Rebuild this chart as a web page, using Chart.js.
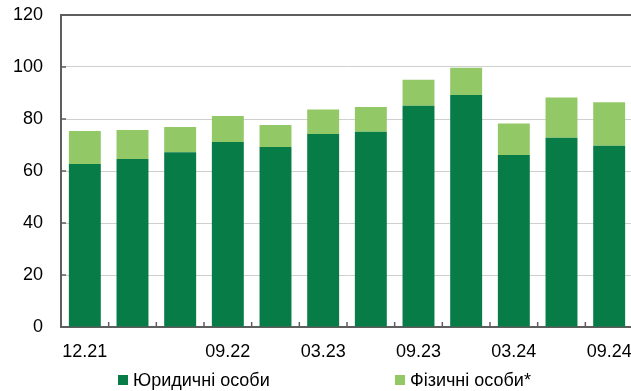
<!DOCTYPE html>
<html>
<head>
<meta charset="utf-8">
<script src="https://cdn.jsdelivr.net/npm/chart.js@4"></script>
<style>
    html, body { margin: 0; padding: 0; overflow: hidden; background: #fff; }
    #wrap { position: relative; width: 640px; height: 391px; }
    .legend-item { position: absolute; top: 370px; font: 18px Arial, "Liberation Sans", sans-serif; line-height: 20px; color: #000; white-space: nowrap; }
    .legend-box { position: absolute; top: 375px; width: 10px; height: 10px; }
</style>
</head>
<body>
<div id="wrap">
    <canvas id="chart" width="640" height="391"></canvas>
    <span class="legend-box" style="left:118px;background:#077c46"></span>
    <span class="legend-item" style="left:133px">Юридичні особи</span>
    <span class="legend-box" style="left:395px;background:#93c866"></span>
    <span class="legend-item" style="left:410px">Фізичні особи*</span>
</div>
<script>
// Quarters on the x axis
var quarters = ['12.21', '03.22', '06.22', '09.22', '12.22', '03.23', '06.23', '09.23', '12.23', '03.24', '06.24', '09.24'];
// Only some quarters get a label under the axis
var tickLabels = ['12.21', '', '', '09.22', '', '03.23', '', '09.23', '', '03.24', '', '09.24'];

// Series values
var legalEntities = [62.7, 64.6, 67.2, 71.2, 69.2, 74.2, 75.1, 85.1, 89.2, 66.2, 72.8, 69.7];
var individuals = [12.7, 11.2, 9.7, 10.0, 8.5, 9.5, 9.5, 10.0, 10.5, 12.1, 15.5, 16.7];

var fontFamily = 'Arial, "Liberation Sans", sans-serif';
var axisColor = '#5e5e5e';

// Small inward tick marks on both axes
var innerTicks = {
    id: 'innerTicks',
    afterDraw: function(chart) {
        var ctx = chart.ctx;
        var area = chart.chartArea;
        var x = chart.scales.x;
        var y = chart.scales.y;
        ctx.save();
        ctx.strokeStyle = axisColor;
        ctx.lineWidth = 1.5;
        ctx.beginPath();
        y.ticks.forEach(function(t) {
            if (t.value === 0) return;
            var py = y.getPixelForValue(t.value);
            ctx.moveTo(area.left, py);
            ctx.lineTo(area.left + 5, py);
        });
        for (var i = 1; i < quarters.length; i++) {
            var px = (x.getPixelForValue(i - 1) + x.getPixelForValue(i)) / 2;
            ctx.moveTo(px, area.bottom);
            ctx.lineTo(px, area.bottom - 5);
        }
        ctx.stroke();
        ctx.restore();
    }
};

var ctx = document.getElementById('chart').getContext('2d');
var chart = new Chart(ctx, {
    type: 'bar',
    data: {
        labels: quarters,
        datasets: [{
            label: 'Юридичні особи',
            data: legalEntities,
            backgroundColor: '#077c46',
            borderWidth: 0
        }, {
            label: 'Фізичні особи*',
            data: individuals,
            backgroundColor: '#93c866',
            borderWidth: 0
        }]
    },
    options: {
        responsive: false,
        animation: false,
        layout: {
            padding: { top: 15, right: 7, bottom: 0, left: 0 }
        },
        datasets: {
            bar: { barPercentage: 0.67, categoryPercentage: 1 }
        },
        plugins: {
            legend: { display: false },
            tooltip: { enabled: false }
        },
        scales: {
            x: {
                stacked: true,
                grid: { display: false, drawTicks: false },
                border: { color: axisColor, width: 2 },
                ticks: {
                    autoSkip: false,
                    maxRotation: 0,
                    padding: 14,
                    color: '#000',
                    font: { family: fontFamily, size: 18 },
                    callback: function(value, index) { return tickLabels[index]; }
                },
                afterFit: function(scale) {
                    scale.height = 64;
                    scale.paddingLeft = 0;
                    scale.paddingRight = 0;
                }
            },
            y: {
                stacked: true,
                min: 0,
                max: 120,
                grid: {
                    drawTicks: false,
                    color: function(c) { return c.tick && c.tick.value === 120 ? axisColor : '#cfcfcf'; },
                    lineWidth: function(c) { return c.tick && c.tick.value === 120 ? 2 : 1; }
                },
                border: { color: axisColor, width: 2 },
                ticks: {
                    stepSize: 20,
                    padding: 18,
                    color: '#000',
                    font: { family: fontFamily, size: 18 }
                },
                afterFit: function(scale) {
                    scale.width = 61;
                    scale.paddingTop = 0;
                    scale.paddingBottom = 0;
                }
            }
        }
    },
    plugins: [innerTicks]
});
</script>
</body>
</html>
